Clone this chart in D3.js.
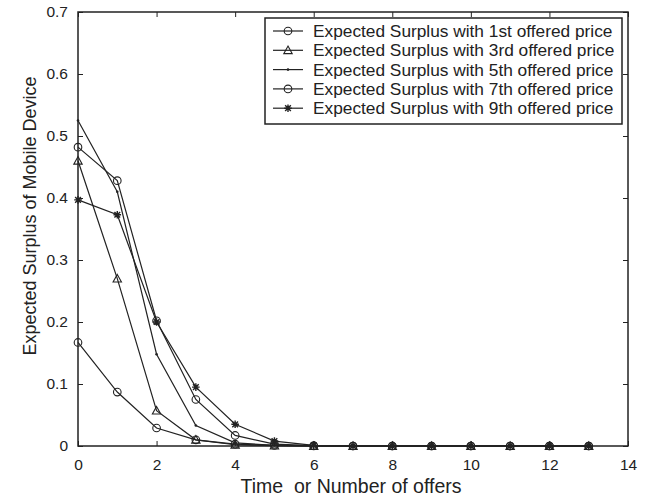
<!DOCTYPE html>
<html>
<head>
<meta charset="utf-8">
<script src="https://cdn.jsdelivr.net/npm/d3@7"></script>
<style>
  body { margin: 0; background: #fff; }
  text { font-family: "Liberation Sans", Arial, sans-serif; fill: #222; }
</style>
</head>
<body>
<script>
// offers 0..13
const offers = d3.range(0, 14);

const s1 = [0.167, 0.087, 0.029, 0.010, 0.003, 0.001, 0, 0, 0, 0, 0, 0, 0, 0];
const s3 = [0.460, 0.270, 0.057, 0.010, 0.002, 0.0005, 0, 0, 0, 0, 0, 0, 0, 0];
const s5 = [0.525, 0.410, 0.148, 0.033, 0.005, 0.001, 0, 0, 0, 0, 0, 0, 0, 0];
const s7 = [0.482, 0.428, 0.202, 0.075, 0.017, 0.003, 0.0005, 0, 0, 0, 0, 0, 0, 0];
const s9 = [0.397, 0.373, 0.200, 0.095, 0.035, 0.008, 0.001, 0, 0, 0, 0, 0, 0, 0];

const seriesNames = [
  'Expected Surplus with 1st offered price',
  'Expected Surplus with 3rd offered price',
  'Expected Surplus with 5th offered price',
  'Expected Surplus with 7th offered price',
  'Expected Surplus with 9th offered price'
];
const seriesMarkers = ['circle', 'triangle', 'point', 'circle', 'star'];
const seriesValues = [s1, s3, s5, s7, s9];

const xTicks = [0, 2, 4, 6, 8, 10, 12, 14];
const yTicks = [0, 0.1, 0.2, 0.3, 0.4, 0.5, 0.6, 0.7];

const w = 648, h = 498;
const pLeft = 78, pRight = 628, pTop = 12, pBottom = 446;

const svg = d3.select('body').append('svg')
  .attr('width', w).attr('height', h);

const x = d3.scaleLinear().domain([0, 14]).range([pLeft, pRight]);
const y = d3.scaleLinear().domain([0, 0.7]).range([pBottom, pTop]);

const tickLen = 5;

// axes with inward ticks, matlab style
function styleAxis(g) {
  g.select('.domain').remove();
  g.selectAll('line').attr('stroke', '#222');
  g.selectAll('text').style('font-size', '15.5px').attr('fill', '#333');
}

svg.append('g')
  .attr('transform', 'translate(0,' + pBottom + ')')
  .call(d3.axisBottom(x).tickValues(xTicks).tickFormat(d3.format('d'))
    .tickSizeInner(-tickLen).tickSizeOuter(0).tickPadding(13))
  .call(styleAxis);

svg.append('g')
  .attr('transform', 'translate(0,' + pTop + ')')
  .call(d3.axisTop(x).tickValues(xTicks).tickFormat('')
    .tickSizeInner(-tickLen).tickSizeOuter(0))
  .call(styleAxis);

svg.append('g')
  .attr('transform', 'translate(' + pLeft + ',0)')
  .call(d3.axisLeft(y).tickValues(yTicks).tickFormat(d => d === 0 ? '0' : d3.format('.1f')(d))
    .tickSizeInner(-tickLen).tickSizeOuter(0).tickPadding(10))
  .call(styleAxis);

svg.append('g')
  .attr('transform', 'translate(' + pRight + ',0)')
  .call(d3.axisRight(y).tickValues(yTicks).tickFormat('')
    .tickSizeInner(-tickLen).tickSizeOuter(0))
  .call(styleAxis);

svg.append('rect')
  .attr('x', pLeft).attr('y', pTop)
  .attr('width', pRight - pLeft).attr('height', pBottom - pTop)
  .attr('fill', 'none').attr('stroke', '#222').attr('stroke-width', 1.5);

// axis labels
svg.append('text')
  .attr('x', 351).attr('y', 493)
  .attr('text-anchor', 'middle')
  .style('font-size', '19.5px')
  .style('white-space', 'pre')
  .text('Time  or Number of offers');

svg.append('text')
  .attr('transform', 'translate(36,216) rotate(-90)')
  .attr('text-anchor', 'middle')
  .style('font-size', '18px')
  .text('Expected Surplus of Mobile Device');

const line = d3.line().x((d, i) => x(offers[i])).y(d => y(d));

function drawMarker(g, type, cx, cy) {
  if (type === 'circle') {
    g.append('circle').attr('cx', cx).attr('cy', cy).attr('r', 3.8)
      .attr('fill', 'none').attr('stroke', '#222').attr('stroke-width', 1.1);
  } else if (type === 'triangle') {
    const s = 4.2;
    g.append('path')
      .attr('d', 'M' + cx + ',' + (cy - s) + 'L' + (cx + s) + ',' + (cy + s * 0.8) + 'L' + (cx - s) + ',' + (cy + s * 0.8) + 'Z')
      .attr('fill', 'none').attr('stroke', '#222').attr('stroke-width', 1.1);
  } else if (type === 'point') {
    g.append('circle').attr('cx', cx).attr('cy', cy).attr('r', 1.3).attr('fill', '#222');
  } else if (type === 'star') {
    const s = 3.8;
    const p = 'M' + (cx - s) + ',' + cy + 'L' + (cx + s) + ',' + cy +
      'M' + cx + ',' + (cy - s) + 'L' + cx + ',' + (cy + s) +
      'M' + (cx - s * 0.75) + ',' + (cy - s * 0.75) + 'L' + (cx + s * 0.75) + ',' + (cy + s * 0.75) +
      'M' + (cx - s * 0.75) + ',' + (cy + s * 0.75) + 'L' + (cx + s * 0.75) + ',' + (cy - s * 0.75);
    g.append('path').attr('d', p).attr('stroke', '#222').attr('stroke-width', 1.4).attr('fill', 'none');
  }
}

seriesValues.forEach((vals, k) => {
  const g = svg.append('g');
  g.append('path').datum(vals)
    .attr('d', line)
    .attr('fill', 'none').attr('stroke', '#222').attr('stroke-width', 1.2);
  vals.forEach((v, i) => drawMarker(g, seriesMarkers[k], x(offers[i]), y(v)));
});

// legend
const lg = svg.append('g');
const lx = 265, ly = 18, lw = 357, lh = 106;
lg.append('rect').attr('x', lx).attr('y', ly).attr('width', lw).attr('height', lh)
  .attr('fill', '#fff').attr('stroke', '#222').attr('stroke-width', 1.5);

seriesNames.forEach((name, k) => {
  const cy = 31 + k * 19.3;
  lg.append('line').attr('x1', 273).attr('x2', 303).attr('y1', cy).attr('y2', cy)
    .attr('stroke', '#222').attr('stroke-width', 1.2);
  drawMarker(lg, seriesMarkers[k], 288, cy);
  lg.append('text').attr('x', 313).attr('y', cy + 6)
    .style('font-size', '17.3px')
    .text(name);
});
</script>
</body>
</html>
